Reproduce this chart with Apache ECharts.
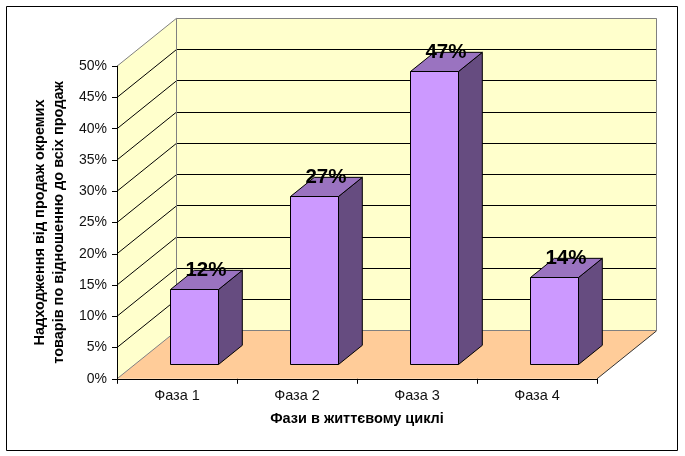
<!DOCTYPE html>
<html>
<head>
<meta charset="utf-8">
<style>html,body{margin:0;padding:0;background:#fff}#c{width:685px;height:456px}</style>
<script src="https://cdn.jsdelivr.net/npm/echarts@6/dist/echarts.min.js"></script>
</head>
<body>
<div id="c"></div>
<script>
const categories = ['Фаза 1', 'Фаза 2', 'Фаза 3', 'Фаза 4'];
const shares = [12, 27, 47, 14];
const gridTicks = [5, 10, 15, 20, 25, 30, 35, 40, 45, 50];
const yTitle = 'Надходження від продаж окремих\nтоварів по відношенню до всіх продаж';
const xTitle = 'Фази в життєвому циклі';

const DX = 59.5, DY = -47.9;           // depth of the 3-D box
const BAR_OFF = 0.3, BAR_DEPTH = 0.4;  // bar position / depth as share of box depth
const FONT = '"Liberation Sans", Arial, sans-serif';
const GREY = '#808080';
const crisp = v => Math.floor(v) + 0.5;
const crispY = v => Math.round(v) + 0.5;

function poly(points, fill, stroke, width) {
  return {type: 'polygon', shape: {points}, style: {fill, stroke: stroke || null, lineWidth: width || 1}};
}
function seg(x1, y1, x2, y2, stroke) {
  return {type: 'line', shape: {x1, y1, x2, y2}, style: {stroke, lineWidth: 1}};
}

function renderWalls(params, api) {
  const cs = params.coordSys;
  const o = api.coord([0, 0]), t = api.coord([0, 50]);
  const x0 = cs.x, x1 = cs.x + cs.width, y0 = o[1], yT = t[1];
  return {type: 'group', children: [
    poly([[x0, y0], [x0 + DX, y0 + DY], [x0 + DX, yT + DY], [x0, yT]], '#FFFFCC'),
    poly([[x0 + DX, y0 + DY], [x1 + DX, y0 + DY], [x1 + DX, yT + DY], [x0 + DX, yT + DY]], '#FFFFCC'),
    poly([[x0, y0], [x1, y0], [x1 + DX, y0 + DY], [x0 + DX, y0 + DY]], '#FFCC99')
  ]};
}
function renderGrid(params, api) {
  const cs = params.coordSys;
  const y = api.coord([0, api.value(0)])[1];
  const x0 = cs.x, x1 = cs.x + cs.width;
  const stroke = api.value(0) === 50 ? GREY : '#000';
  return {type: 'group', children: [
    seg(x0, y, x0 + DX, y + DY, stroke),
    seg(x0 + DX, crisp(y + DY), x1 + DX, crisp(y + DY), stroke)
  ]};
}
function renderEdges(params, api) {
  const cs = params.coordSys;
  const o = api.coord([0, 0]), t = api.coord([0, 50]);
  const x0 = cs.x, x1 = cs.x + cs.width, y0 = o[1], yT = t[1];
  const bx = crisp(x0 + DX), rx = crisp(x1 + DX), by = crisp(y0 + DY);
  return {type: 'group', children: [
    seg(x0, y0, x0 + DX, y0 + DY, GREY),
    seg(bx, yT + DY, bx, by, GREY),
    seg(rx, yT + DY, rx, by, GREY),
    seg(bx, by, rx, by, GREY),
    seg(x1, y0, x1 + DX, y0 + DY, '#333')
  ]};
}
function renderBar(params, api) {
  const i = api.value(0), v = api.value(1);
  const top = api.coord([i, v]), base = api.coord([i, 0]);
  const w = api.size([1, 0])[0] * 0.4;
  const ox = DX * BAR_OFF, oy = DY * BAR_OFF, dx = DX * BAR_DEPTH, dy = DY * BAR_DEPTH;
  const l = crisp(top[0] - w / 2 + ox), r = crisp(top[0] + w / 2 + ox);
  const yt = crispY(top[1] + oy), yb = crispY(base[1] + oy);
  const line = '#000';
  return {type: 'group', children: [
    poly([[r, yb], [r + dx, yb + dy], [r + dx, yt + dy], [r, yt]], '#664C80', line),
    poly([[l, yt], [r, yt], [r + dx, yt + dy], [l + dx, yt + dy]], '#9A73C0', line),
    poly([[l, yb], [r, yb], [r, yt], [l, yt]], '#CC99FF', line),
    {type: 'text', x: l + w / 2 + dx / 2 - 0.5, y: yt + dy,
      style: {text: v + '%', font: 'bold 20.5px ' + FONT, fill: '#000', align: 'center', verticalAlign: 'middle'}}
  ]};
}

const chart = echarts.init(document.getElementById('c'), null, {renderer: 'canvas'});
chart.setOption({
  animation: false,
  backgroundColor: '#fff',
  graphic: [{type: 'rect', silent: true, z: -1,
    shape: {x: 6.5, y: 6.5, width: 671, height: 444},
    style: {fill: '#fff', stroke: '#000', lineWidth: 1}}],
  grid: {left: 117, top: 66.2, width: 480, height: 312.6, containLabel: false},
  xAxis: {
    type: 'category', data: categories, z: 5,
    name: xTitle, nameLocation: 'middle', nameGap: 33,
    nameTextStyle: {fontFamily: 'Liberation Sans', fontWeight: 'bold', fontSize: 14.5, color: '#000'},
    axisLine: {lineStyle: {color: '#000', width: 1}},
    axisTick: {show: true, length: 5, alignWithLabel: false, lineStyle: {color: '#000'}},
    axisLabel: {fontFamily: 'Liberation Sans', fontSize: 14.5, color: '#111', margin: 10},
    splitLine: {show: false}
  },
  yAxis: {
    type: 'value', min: 0, max: 50, interval: 5, z: 5,
    name: yTitle, nameLocation: 'middle', nameGap: 46,
    nameTextStyle: {fontFamily: 'Liberation Sans', fontWeight: 'bold', fontSize: 14.5, color: '#000', lineHeight: 19},
    axisLine: {show: true, lineStyle: {color: '#000', width: 1}},
    axisTick: {show: true, length: 5, lineStyle: {color: '#000'}},
    axisLabel: {formatter: '{value}%', fontFamily: 'Liberation Sans', fontSize: 14, color: '#111', margin: 10, padding: [0, 0, 2, 0]},
    splitLine: {show: false}
  },
  series: [
    {type: 'custom', silent: true, z: 1, renderItem: renderWalls, data: [[0]], encode: {x: -1, y: -1}},
    {type: 'custom', silent: true, z: 2, renderItem: renderGrid, data: gridTicks.map(v => [v]), encode: {x: -1, y: 0}},
    {type: 'custom', silent: true, z: 3, renderItem: renderEdges, data: [[0]], encode: {x: -1, y: -1}},
    {type: 'custom', silent: true, z: 4, renderItem: renderBar,
      data: shares.map((v, i) => [i, v]), encode: {x: 0, y: 1}}
  ]
});
</script>
</body>
</html>
